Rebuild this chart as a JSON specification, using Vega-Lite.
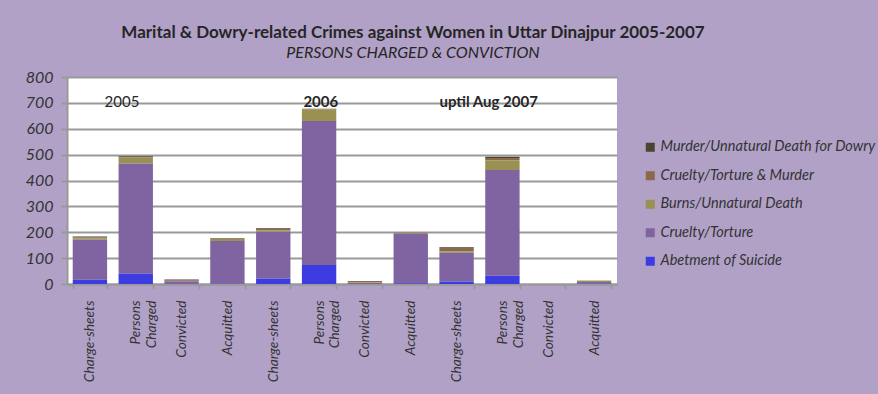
{
  "$schema": "https://vega.github.io/schema/vega-lite/v6.json",
  "width": 550,
  "height": 207,
  "autosize": {"type": "none"},
  "padding": {"left": 67, "top": 77, "right": 261, "bottom": 110},
  "background": "#b1a1c7",
  "title": {
    "text": "Marital & Dowry-related Crimes against Women in Uttar Dinajpur  2005-2007",
    "subtitle": "PERSONS CHARGED & CONVICTION",
    "anchor": "middle",
    "dx": 71,
    "offset": 7,
    "font": "Lato",
    "fontSize": 17,
    "fontWeight": "bold",
    "color": "#262626",
    "subtitleFont": "Lato",
    "subtitleFontSize": 16,
    "subtitleFontStyle": "italic",
    "subtitleColor": "#262626",
    "subtitlePadding": 3
  },
  "config": {
    "view": {"fill": "white", "stroke": null},
    "axis": {
      "labelFont": "Lato",
      "labelFontStyle": "italic",
      "labelFontSize": 13.75,
      "labelColor": "#333333",
      "domainColor": "#999999",
      "domainWidth": 2,
      "tickColor": "#999999",
      "tickWidth": 2,
      "gridColor": "#999999",
      "gridWidth": 2,
      "gridOpacity": 1,
      "title": null
    },
    "axisY": {
      "labelFont": "Lato",
      "labelFontStyle": "italic",
      "labelFontSize": 16,
      "labelPadding": 8,
      "tickSize": 6,
      "tickCount": 8,
      "labelColor": "#333333"
    }
  },
  "encoding": {
    "x": {
      "field": "bar",
      "type": "nominal",
      "sort": null,
      "scale": {
        "domain": ["2005 Charge-sheets", "2005 Persons Charged", "2005 Convicted", "2005 Acquitted", "2006 Charge-sheets", "2006 Persons Charged", "2006 Convicted", "2006 Acquitted", "2007 Charge-sheets", "2007 Persons Charged", "2007 Convicted", "2007 Acquitted"],
        "paddingInner": 0.25,
        "paddingOuter": 0.125
      },
      "axis": {
        "labelExpr": "indexof(datum.label, 'Persons') >= 0 ? ['Persons', 'Charged'] : slice(datum.label, 5)",
        "labelAngle": 270,
        "labelAlign": "right",
        "labelBaseline": "middle",
        "labelPadding": 11,
        "tickSize": 5,
        "tickBand": "extent",
        "grid": false
      }
    },
    "y": {
      "field": "value",
      "type": "quantitative",
      "scale": {"domain": [0, 800], "nice": false},
      "axis": {"tickCount": 8, "labelOverlap": false, "grid": true, "labelFontStyle": "italic", "labelFontSize": 16}
    }
  },
  "layer": [
    {
      "data": {
        "values": [
          {"bar": "2005 Charge-sheets", "Abetment of Suicide": 16, "Cruelty/Torture": 155, "Burns/Unnatural Death": 6, "Cruelty/Torture & Murder": 3, "Murder/Unnatural Death for Dowry": 4},
          {"bar": "2005 Persons Charged", "Abetment of Suicide": 40, "Cruelty/Torture": 426, "Burns/Unnatural Death": 22, "Cruelty/Torture & Murder": 2, "Murder/Unnatural Death for Dowry": 4},
          {"bar": "2005 Convicted", "Abetment of Suicide": 0, "Cruelty/Torture": 11, "Burns/Unnatural Death": 1, "Cruelty/Torture & Murder": 2, "Murder/Unnatural Death for Dowry": 3},
          {"bar": "2005 Acquitted", "Abetment of Suicide": 1, "Cruelty/Torture": 165, "Burns/Unnatural Death": 8, "Cruelty/Torture & Murder": 3, "Murder/Unnatural Death for Dowry": 1},
          {"bar": "2006 Charge-sheets", "Abetment of Suicide": 20, "Cruelty/Torture": 182, "Burns/Unnatural Death": 6, "Cruelty/Torture & Murder": 5, "Murder/Unnatural Death for Dowry": 2},
          {"bar": "2006 Persons Charged", "Abetment of Suicide": 73, "Cruelty/Torture": 557, "Burns/Unnatural Death": 43, "Cruelty/Torture & Murder": 2, "Murder/Unnatural Death for Dowry": 2},
          {"bar": "2006 Convicted", "Abetment of Suicide": 0, "Cruelty/Torture": 4, "Burns/Unnatural Death": 2, "Cruelty/Torture & Murder": 6, "Murder/Unnatural Death for Dowry": 0},
          {"bar": "2006 Acquitted", "Abetment of Suicide": 3, "Cruelty/Torture": 192, "Burns/Unnatural Death": 5, "Cruelty/Torture & Murder": 0, "Murder/Unnatural Death for Dowry": 0},
          {"bar": "2007 Charge-sheets", "Abetment of Suicide": 10, "Cruelty/Torture": 111, "Burns/Unnatural Death": 6, "Cruelty/Torture & Murder": 12, "Murder/Unnatural Death for Dowry": 3},
          {"bar": "2007 Persons Charged", "Abetment of Suicide": 32, "Cruelty/Torture": 409, "Burns/Unnatural Death": 37, "Cruelty/Torture & Murder": 9, "Murder/Unnatural Death for Dowry": 5},
          {"bar": "2007 Convicted", "Abetment of Suicide": 0, "Cruelty/Torture": 0, "Burns/Unnatural Death": 0, "Cruelty/Torture & Murder": 0, "Murder/Unnatural Death for Dowry": 0},
          {"bar": "2007 Acquitted", "Abetment of Suicide": 1, "Cruelty/Torture": 7, "Burns/Unnatural Death": 5, "Cruelty/Torture & Murder": 1, "Murder/Unnatural Death for Dowry": 0}
        ]
      },
      "transform": [
        {"fold": ["Murder/Unnatural Death for Dowry", "Cruelty/Torture & Murder", "Burns/Unnatural Death", "Cruelty/Torture", "Abetment of Suicide"], "as": ["cause", "value"]},
        {"calculate": "indexof(['Murder/Unnatural Death for Dowry', 'Cruelty/Torture & Murder', 'Burns/Unnatural Death', 'Cruelty/Torture', 'Abetment of Suicide'], datum.cause)", "as": "ord"}
      ],
      "mark": {"type": "bar"},
      "encoding": {
        "y": {
          "field": "value",
          "type": "quantitative",
          "stack": "zero",
          "scale": {"domain": [0, 800], "nice": false},
          "axis": {"tickCount": 8, "labelOverlap": false, "grid": true, "labelFontStyle": "italic", "labelFontSize": 16}
        },
        "color": {
          "field": "cause",
          "type": "nominal",
          "scale": {
            "domain": ["Murder/Unnatural Death for Dowry", "Cruelty/Torture & Murder", "Burns/Unnatural Death", "Cruelty/Torture", "Abetment of Suicide"],
            "range": ["#4b4530", "#8b6a4c", "#9a9052", "#8064a2", "#3c3ce0"]
          },
          "legend": {
            "orient": "none",
            "legendX": 576,
            "legendY": 63,
            "title": null,
            "symbolType": "square",
            "symbolSize": 81,
            "symbolStrokeWidth": 0,
            "labelFont": "Lato",
            "labelFontStyle": "italic",
            "labelFontSize": 14.5,
            "labelColor": "#333333",
            "labelOffset": 3,
            "rowPadding": 13.5,
            "padding": 0,
            "labelLimit": 300
          }
        },
        "order": {"field": "ord", "type": "quantitative", "sort": "descending"}
      }
    },
    {
      "data": {"values": [{"bar": "2005 Persons Charged", "value": 703, "label": "2005"}]},
      "mark": {"type": "text", "font": "Lato", "fontSize": 15, "color": "#262626", "align": "center", "baseline": "middle"},
      "encoding": {
        "x": {"field": "bar", "type": "nominal", "sort": null, "bandPosition": 0.1},
        "text": {"field": "label"}
      }
    },
    {
      "data": {"values": [{"bar": "2006 Persons Charged", "value": 703, "label": "2006"}]},
      "mark": {"type": "text", "font": "Lato", "fontSize": 15, "fontWeight": "bold", "color": "#262626", "align": "center", "baseline": "middle"},
      "encoding": {
        "x": {"field": "bar", "type": "nominal", "sort": null, "bandPosition": 0.55},
        "text": {"field": "label"}
      }
    },
    {
      "data": {"values": [{"bar": "2007 Persons Charged", "value": 703, "label": "uptil  Aug 2007"}]},
      "mark": {"type": "text", "font": "Lato", "fontSize": 15, "fontWeight": "bold", "color": "#262626", "align": "center", "baseline": "middle"},
      "encoding": {
        "x": {"field": "bar", "type": "nominal", "sort": null, "bandPosition": 0.1},
        "text": {"field": "label"}
      }
    }
  ]
}
